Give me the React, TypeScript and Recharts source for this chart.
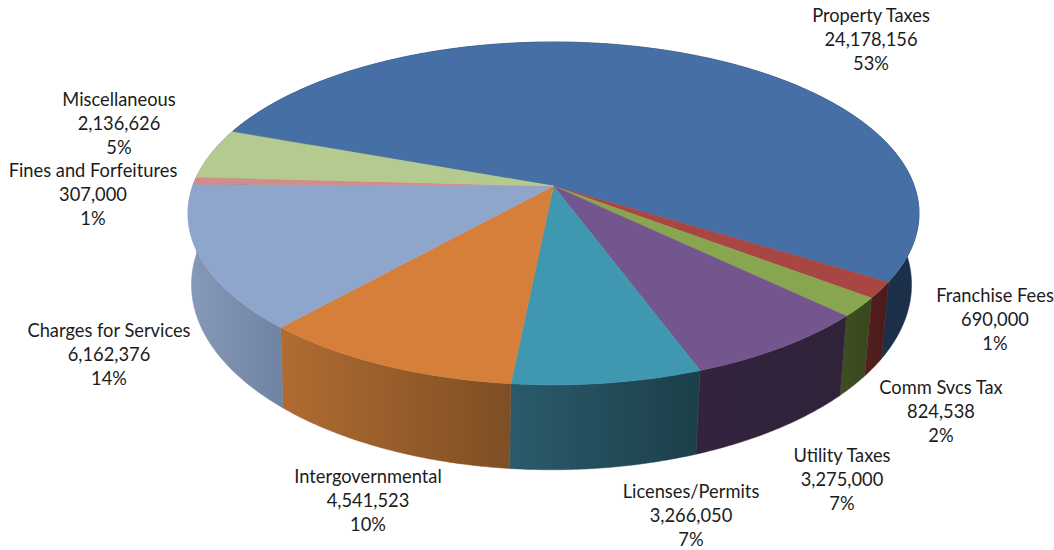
import { PieChart, Pie } from 'recharts'

const categories = ['Property Taxes', 'Franchise Fees', 'Comm Svcs Tax', 'Utility Taxes', 'Licenses/Permits', 'Intergovernmental', 'Charges for Services', 'Fines and Forfeitures', 'Miscellaneous']
const revenues = [24178156, 690000, 824538, 3275000, 3266050, 4541523, 6162376, 307000, 2136626]
const shares = ['53%', '1%', '2%', '7%', '7%', '10%', '14%', '1%', '5%']

const topColors = ['#456fa5', '#a84644', '#88a64f', '#73568e', '#3f97b0', '#d67f3a', '#8fa6cc', '#d08d8c', '#b5ca8f']
const wallLeft = ['#1b3450', '#561f1e', '#3f4f22', '#33233f', '#2a5b6b', '#b06c31', '#8699b9', '#8699b9', '#8699b9']
const wallRight = ['#1b3048', '#471b1a', '#38471f', '#2f2239', '#1c3f49', '#7e4e25', '#6f83a3', '#6f83a3', '#6f83a3']

// centre x and first baseline of each three line label
const labelAnchors = [
  [871, 22], [995, 302], [941, 394], [842, 462], [691, 498],
  [368, 483], [109, 337], [93, 177], [119, 106],
]

const WIDTH = 1054
const HEIGHT = 550
const CX = 553.5
const CY = 186
const RADIUS = 360.8
const SQUASH = 0.463 // tilt of the disc
const PERSPECTIVE = 0.16
const BOTTOM_X_SCALE = 0.985
const BOTTOM_X_SHIFT = -2
const BOTTOM_Y_SCALE = 1.08
const BOTTOM_DROP = 69

const tableData = categories.map((name, i) => ({ name, value: revenues[i], fill: topColors[i] }))

// circle seen in perspective, near edge towards the bottom of the page
function project(cx: number, cy: number, r: number, deg: number, bottom = false) {
  const rad = (deg * Math.PI) / 180
  const u = Math.cos(rad)
  const v = -Math.sin(rad)
  const w = 1 - PERSPECTIVE * v
  const dx = (r * u) / w
  const dy = (r * SQUASH * v) / w
  if (!bottom) return { x: cx + dx, y: cy + dy }
  return { x: cx + dx * BOTTOM_X_SCALE + BOTTOM_X_SHIFT, y: cy + dy * BOTTOM_Y_SCALE + BOTTOM_DROP }
}

function arc(cx: number, cy: number, r: number, start: number, end: number, bottom = false) {
  const steps = Math.max(2, Math.ceil(Math.abs(start - end) * 2))
  return Array.from({ length: steps + 1 }, (_, i) => project(cx, cy, r, start + ((end - start) * i) / steps, bottom))
}

const toPath = (pts: { x: number; y: number }[]) => 'M' + pts.map(p => `${p.x.toFixed(2)},${p.y.toFixed(2)}`).join('L') + 'Z'

// flat top of a slice
function TopFace(props: any) {
  const { cx, cy, outerRadius, startAngle, endAngle, index } = props
  const d = toPath([{ x: cx, y: cy }, ...arc(cx, cy, outerRadius, startAngle, endAngle)])
  return <path d={d} fill={topColors[index]} stroke={topColors[index]} strokeWidth={0.5} />
}

// outer wall of a slice, hidden behind the top faces where it faces away
function WallFace(props: any) {
  const { cx, cy, outerRadius, startAngle, endAngle, index } = props
  const top = arc(cx, cy, outerRadius, startAngle, endAngle)
  const bottom = arc(cx, cy, outerRadius, endAngle, startAngle, true)
  const pts = [...top, ...bottom]
  const front = pts.filter(p => p.y > cy)
  const xs = (front.length ? front : pts).map(p => p.x)
  const id = `wall-${index}`
  return (
    <g>
      <defs>
        <linearGradient id={id} gradientUnits="userSpaceOnUse" x1={Math.min(...xs)} x2={Math.max(...xs)} y1={0} y2={0}>
          <stop offset="0%" stopColor={wallLeft[index]} />
          <stop offset="100%" stopColor={wallRight[index]} />
        </linearGradient>
      </defs>
      <path d={toPath(pts)} fill={`url(#${id})`} stroke={`url(#${id})`} strokeWidth={0.5} />
    </g>
  )
}

function SliceLabel(props: any) {
  const { index } = props
  const [x, y] = labelAnchors[index]
  const lines = [categories[index], revenues[index].toLocaleString('en-US'), shares[index]]
  return (
    <text x={x} y={y} textAnchor="middle" fill="#1c1c1c" fontFamily="Lato, 'Open Sans', sans-serif" fontSize={18.3}>
      {lines.map((line, i) => (
        <tspan key={i} x={x} dy={i === 0 ? 0 : 24}>{line}</tspan>
      ))}
    </text>
  )
}

export default function App() {
  return (
    <div style={{ position: 'absolute', left: 0, top: 0, width: WIDTH, height: HEIGHT, background: '#fff' }}>
      <PieChart width={WIDTH} height={HEIGHT} margin={{ top: 0, right: 0, bottom: 0, left: 0 }}>
        <Pie
          data={tableData}
          dataKey="value"
          cx={CX}
          cy={CY}
          outerRadius={RADIUS}
          startAngle={160}
          endAngle={-200}
          shape={WallFace}
          stroke="none"
          isAnimationActive={false}
        />
        <Pie
          data={tableData}
          dataKey="value"
          cx={CX}
          cy={CY}
          outerRadius={RADIUS}
          startAngle={160}
          endAngle={-200}
          shape={TopFace}
          stroke="none"
          label={SliceLabel}
          labelLine={false}
          isAnimationActive={false}
        />
      </PieChart>
    </div>
  )
}
